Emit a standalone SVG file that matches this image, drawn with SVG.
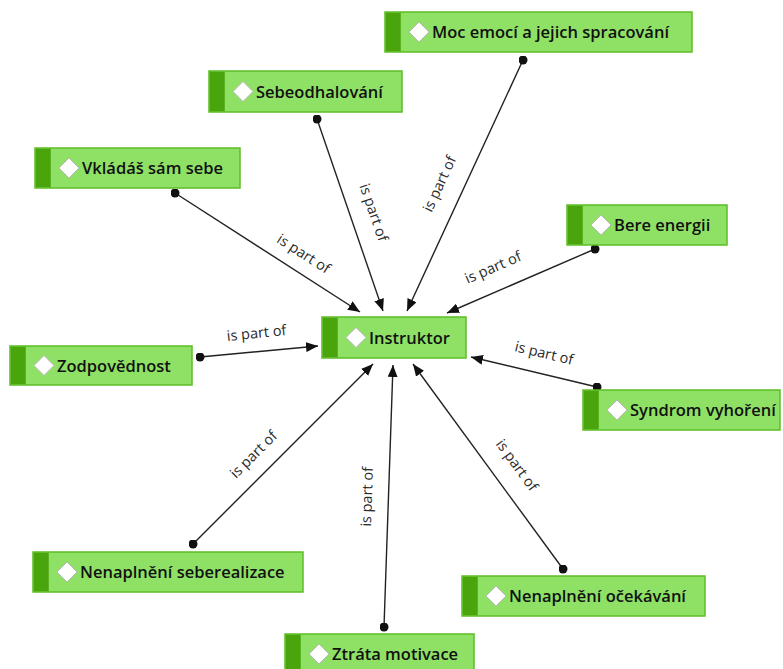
<svg xmlns="http://www.w3.org/2000/svg" width="783" height="669" viewBox="0 0 783 669">
<style>
.box{fill:#8fe166;stroke:#5cbd25;stroke-width:1.5}
.stripe{fill:#49a50b}
.dia{fill:#ffffff;stroke:#b8b8b8;stroke-width:1}
.nt{font-family:"Open Sans","DejaVu Sans",sans-serif;font-size:16.5px;fill:#111;font-weight:600}
.ln{stroke:#222;stroke-width:1.4;fill:none;marker-start:url(#dot);marker-end:url(#arr)}
.lb{font-family:"Open Sans","DejaVu Sans",sans-serif;font-size:14.5px;fill:#2a2a2a;text-anchor:middle}
</style>
<defs>
<marker id="arr" viewBox="0 0 12 10" refX="12" refY="5" markerWidth="12" markerHeight="10" markerUnits="userSpaceOnUse" orient="auto"><path d="M0,0 L12,5 L0,10 z" fill="#111"/></marker>
<marker id="dot" viewBox="0 0 10 10" refX="5" refY="5" markerWidth="9" markerHeight="9" markerUnits="userSpaceOnUse"><circle cx="5" cy="5" r="5" fill="#111"/></marker>
</defs>
<rect width="783" height="669" fill="#ffffff"/>
<g id="connectors">
<line class="ln" x1="175" y1="193" x2="360" y2="312"/>
<line class="ln" x1="317" y1="119" x2="383" y2="311"/>
<line class="ln" x1="523" y1="60" x2="407" y2="311"/>
<line class="ln" x1="595" y1="249" x2="447" y2="313"/>
<line class="ln" x1="200" y1="357" x2="318" y2="346"/>
<line class="ln" x1="597" y1="387" x2="471" y2="357"/>
<line class="ln" x1="193" y1="544" x2="373" y2="364"/>
<line class="ln" x1="384" y1="627" x2="393" y2="365"/>
<line class="ln" x1="563" y1="569" x2="413" y2="364"/>
<text class="lb" transform="translate(301,258) rotate(32.7)">is part of</text>
<text class="lb" transform="translate(369,214) rotate(71)">is part of</text>
<text class="lb" transform="translate(444,186) rotate(-65)">is part of</text>
<text class="lb" transform="translate(495,272) rotate(-23.4)">is part of</text>
<text class="lb" transform="translate(257,338) rotate(-5.8)">is part of</text>
<text class="lb" transform="translate(543,358) rotate(13.4)">is part of</text>
<text class="lb" transform="translate(257,458) rotate(-45)">is part of</text>
<text class="lb" transform="translate(372,497) rotate(-88)">is part of</text>
<text class="lb" transform="translate(513,468) rotate(53.8)">is part of</text>
</g>
<g id="moc"><rect class="box" x="385" y="12" width="307" height="40"/><rect class="stripe" x="385.75" y="12.75" width="15" height="38.5"/><path class="dia" d="M419,22 L429,32 L419,42 L409,32 z"/><text class="nt" x="432" y="38">Moc emocí a jejich spracování</text></g>
<g id="sebeodhalovani"><rect class="box" x="209" y="71" width="193" height="41"/><rect class="stripe" x="209.75" y="71.75" width="15" height="39.5"/><path class="dia" d="M243,81.5 L253,91.5 L243,101.5 L233,91.5 z"/><text class="nt" x="256" y="97.5">Sebeodhalování</text></g>
<g id="vkladas"><rect class="box" x="35" y="148" width="205" height="40"/><rect class="stripe" x="35.75" y="148.75" width="15" height="38.5"/><path class="dia" d="M69,158 L79,168 L69,178 L59,168 z"/><text class="nt" x="82" y="174">Vkládáš sám sebe</text></g>
<g id="bere"><rect class="box" x="567" y="205" width="160" height="40"/><rect class="stripe" x="567.75" y="205.75" width="15" height="38.5"/><path class="dia" d="M601,215 L611,225 L601,235 L591,225 z"/><text class="nt" x="614" y="231">Bere energii</text></g>
<g id="instruktor"><rect class="box" x="322" y="317" width="144" height="41"/><rect class="stripe" x="322.75" y="317.75" width="15" height="39.5"/><path class="dia" d="M356,327.5 L366,337.5 L356,347.5 L346,337.5 z"/><text class="nt" x="369" y="343.5">Instruktor</text></g>
<g id="zodpovednost"><rect class="box" x="10" y="346" width="182" height="39"/><rect class="stripe" x="10.75" y="346.75" width="15" height="37.5"/><path class="dia" d="M44,355.5 L54,365.5 L44,375.5 L34,365.5 z"/><text class="nt" x="57" y="371.5">Zodpovědnost</text></g>
<g id="syndrom"><rect class="box" x="583" y="390" width="197" height="40"/><rect class="stripe" x="583.75" y="390.75" width="15" height="38.5"/><path class="dia" d="M617,400 L627,410 L617,420 L607,410 z"/><text class="nt" x="630" y="416">Syndrom vyhoření</text></g>
<g id="seberealizace"><rect class="box" x="33" y="552" width="270" height="40"/><rect class="stripe" x="33.75" y="552.75" width="15" height="38.5"/><path class="dia" d="M67,562 L77,572 L67,582 L57,572 z"/><text class="nt" x="80" y="578">Nenaplnění seberealizace</text></g>
<g id="ocekavani"><rect class="box" x="462" y="576" width="243" height="40"/><rect class="stripe" x="462.75" y="576.75" width="15" height="38.5"/><path class="dia" d="M496,586 L506,596 L496,606 L486,596 z"/><text class="nt" x="509" y="602">Nenaplnění očekávání</text></g>
<g id="ztrata"><rect class="box" x="285" y="634" width="189" height="40"/><rect class="stripe" x="285.75" y="634.75" width="15" height="38.5"/><path class="dia" d="M319,644 L329,654 L319,664 L309,654 z"/><text class="nt" x="332" y="660">Ztráta motivace</text></g>
</svg>
